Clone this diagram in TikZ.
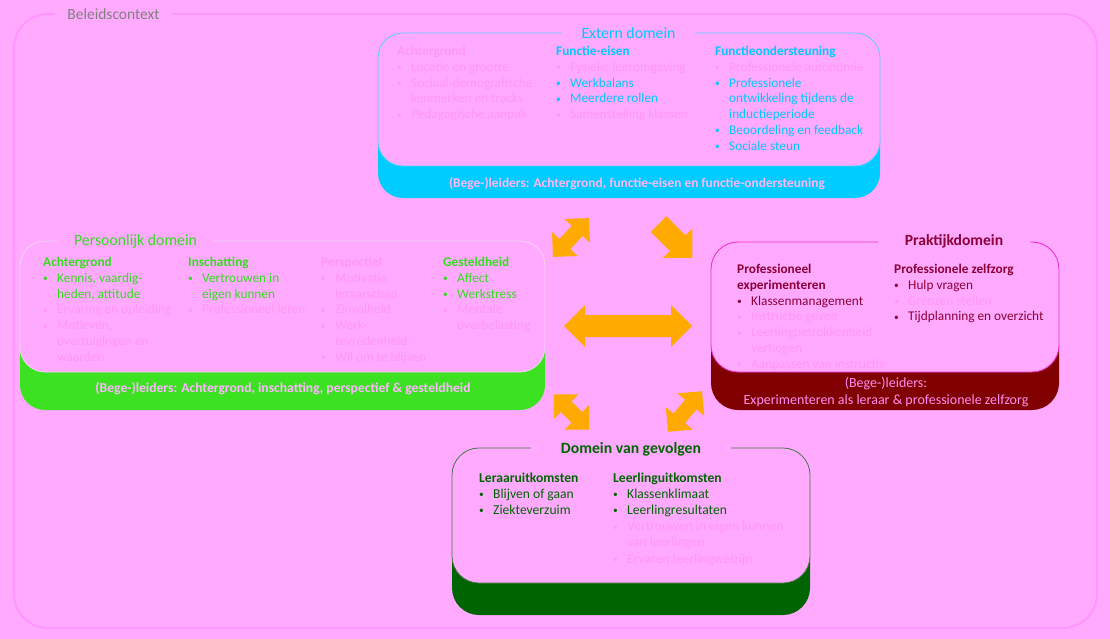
\documentclass[tikz,border=0pt]{standalone}
\usepackage{fontspec}
\setmainfont{Carlito}
\definecolor{bg}{RGB}{255,170,255}
\definecolor{frame}{RGB}{255,150,255}
\definecolor{fd}{RGB}{255,152,242}
\definecolor{ft}{RGB}{255,182,255}
\definecolor{ftr}{RGB}{255,140,245}
\definecolor{cyt}{RGB}{0,200,255}
\definecolor{cyb}{RGB}{0,204,255}
\definecolor{cyl}{RGB}{90,205,255}
\definecolor{grt}{RGB}{50,220,30}
\definecolor{grb}{RGB}{60,225,34}
\definecolor{grl}{RGB}{240,212,240}
\definecolor{mrt}{RGB}{140,0,55}
\definecolor{mrb}{RGB}{128,0,0}
\definecolor{mgl}{RGB}{240,50,205}
\definecolor{dgt}{RGB}{0,100,0}
\definecolor{dgb}{RGB}{0,100,0}
\definecolor{dgl}{RGB}{70,120,70}
\definecolor{gray}{RGB}{128,128,128}
\definecolor{arrowc}{RGB}{255,170,0}
\newcommand\bi[1]{\makebox[14pt][l]{\raisebox{0.5pt}{\fontsize{9.5}{9.5}\selectfont\textbullet}}#1}
\newcommand\ci[1]{\hspace*{14pt}#1}
\newcommand\fdi[1]{\textcolor{fd}{\bi{#1}}}
\newcommand\fci[1]{\textcolor{fd}{\ci{#1}}}
\newcommand\darrow[7]{% name cx cy angle L W s
  \begin{scope}[shift={(#2,#3)},rotate=#4]
    \fill[arrowc] (-#5/2,0) -- (-#5/2+#6/2,#6/2) -- (-#5/2+#6/2,#7/2) -- (#5/2-#6/2,#7/2) -- (#5/2-#6/2,#6/2) -- (#5/2,0) -- (#5/2-#6/2,-#6/2) -- (#5/2-#6/2,-#7/2) -- (-#5/2+#6/2,-#7/2) -- (-#5/2+#6/2,-#6/2) -- cycle;
    \coordinate (#1) at (0,0);
  \end{scope}}
\newcommand\sarrow[7]{% name cx cy angle L W s
  \begin{scope}[shift={(#2,#3)},rotate=#4]
    \fill[arrowc] (-#5/2,#7/2) -- (#5/2-#6/2,#7/2) -- (#5/2-#6/2,#6/2) -- (#5/2,0) -- (#5/2-#6/2,-#6/2) -- (#5/2-#6/2,-#7/2) -- (-#5/2,-#7/2) -- cycle;
    \coordinate (#1) at (0,0);
  \end{scope}}
\begin{document}
\begin{tikzpicture}[x=1pt,y=-1pt,
  col/.style={anchor=north west, inner sep=0pt, align=left, font=\fontsize{13.3}{15.75}\selectfont},
  colb/.style={anchor=north west, inner sep=0pt, align=left, font=\fontsize{13.6}{16.2}\selectfont},
  ttl/.style={fill=bg, inner ysep=3pt, inner xsep=0pt, font=\fontsize{15.8}{18}\selectfont},
  foot/.style={inner sep=0pt, align=center, font=\fontsize{13.5}{17}\selectfont}]
\useasboundingbox (0,0) rectangle (1110,639);
\fill[bg] (0,0) rectangle (1110,639);
% outer frame
\draw[frame, line width=2pt, rounded corners=34pt] (14,14) rectangle (1097,628);
\node[fill=bg, text=gray, inner sep=2pt, minimum width=117pt, font=\fontsize{15.5}{18}\selectfont] (ctx) at (113.5,14) {Beleidscontext};

% ===== Extern domein =====
\fill[cyb, rounded corners=25pt] (378,110) rectangle (880,198);
\filldraw[fill=bg, draw=cyl, line width=0.8pt, rounded corners=25pt] (378,33) rectangle (880,166);
\node[ttl, text=cyt, minimum width=133pt] (ext) at (628.5,33) {Extern domein};
\node[col, text=fd] (e1) at (397,44.5) {\strut\textbf{Achtergrond}\\\bi{Locatie en grootte}\\\bi{Sociaal-demografische}\\\ci{kenmerken en tracks}\\\bi{Pedagogische aanpak}};
\node[col, text=cyt] (e2) at (556,44.5) {\strut\textbf{Functie-eisen}\\\fdi{Fysieke leeromgeving}\\\bi{Werkbalans}\\\bi{Meerdere rollen}\\\fdi{Samenstelling klassen}};
\node[col, text=cyt] (e3) at (715,44.5) {\strut\textbf{Functieondersteuning}\\\fdi{Professionele autonomie}\\\bi{Professionele}\\\ci{ontwikkeling tijdens de}\\\ci{inductieperiode}\\\bi{Beoordeling en feedback}\\\bi{Sociale steun}};
\node[foot, text=ft, font=\bfseries\fontsize{13.4}{15}\selectfont] (ef) at (637,184) {(Bege-)leiders: Achtergrond, functie-eisen en functie-ondersteuning};

% ===== Persoonlijk domein =====
\fill[grb, rounded corners=25pt] (20,320) rectangle (545,410);
\filldraw[fill=bg, draw=grl, line width=0.8pt, rounded corners=25pt] (20,241) rectangle (545,372);
\node[ttl, text=grt, minimum width=155pt] (pers) at (135.5,241) {Persoonlijk domein};
\node[col, text=grt] (p1) at (43,255.5) {\strut\textbf{Achtergrond}\\\bi{Kennis, vaardig-}\\\ci{heden, attitude}\\\fdi{Ervaring en opleiding}\\\fdi{Motieven,}\\\fci{overtuigingen en}\\\fci{waarden}};
\node[col, text=grt] (p2) at (188,255.5) {\strut\textbf{Inschatting}\\\bi{Vertrouwen in}\\\ci{eigen kunnen}\\\fdi{Professioneel leren}};
\node[col, text=fd] (p3) at (321,255.5) {\strut\textbf{Perspectief}\\\bi{Motivatie}\\\ci{leraarschap}\\\bi{Zinvolheid}\\\bi{Werk-}\\\ci{tevredenheid}\\\bi{Wil om te blijven}};
\node[col, text=grt] (p4) at (443,255.5) {\strut\textbf{Gesteldheid}\\\bi{Affect}\\\bi{Werkstress}\\\fdi{Mentale}\\\fci{overbelasting}};
\node[foot, text=ft, font=\bfseries\fontsize{13.6}{15}\selectfont] (pf) at (283,389) {(Bege-)leiders: Achtergrond, inschatting, perspectief \& gesteldheid};

% ===== Praktijkdomein =====
\fill[mrb, rounded corners=27pt] (711,320) rectangle (1059,410);
\filldraw[fill=bg, draw=mgl, line width=0.9pt, rounded corners=27pt] (711,242) rectangle (1059,372);
\node[ttl, text=mrt, minimum width=152pt, font=\bfseries\fontsize{15.6}{18}\selectfont] (prak) at (954,241) {Praktijkdomein};
\node[col, text=mrt] (r1) at (737,262.5) {\strut\textbf{Professioneel}\\\textbf{experimenteren}\\\bi{Klassenmanagement}\\\fdi{Instructie geven}\\\fdi{Leerlingbetrokkenheid}\\\fci{verhogen}\\\fdi{Aanpassen van instructie}};
\node[col, text=mrt] (r2) at (894,262.5) {\strut\textbf{Professionele zelfzorg}\\\bi{Hulp vragen}\\\fdi{Grenzen stellen}\\\bi{Tijdplanning en overzicht}};
\node[foot, text=ftr, font=\fontsize{14}{17}\selectfont] (rf) at (886,392.5) {(Bege-)leiders:\\Experimenteren als leraar \& professionele zelfzorg};

% ===== Domein van gevolgen =====
\fill[dgb, rounded corners=27pt] (452,530) rectangle (810,615);
\filldraw[fill=bg, draw=dgl, line width=0.8pt, rounded corners=27pt] (452,448) rectangle (810,583);
\node[ttl, text=dgt, minimum width=200pt, font=\bfseries\fontsize{15.7}{18}\selectfont] (gev) at (631,449) {Domein van gevolgen};
\node[colb, text=dgt] (g1) at (479,470.5) {\strut\textbf{Leraaruitkomsten}\\\bi{Blijven of gaan}\\\bi{Ziekteverzuim}};
\node[colb, text=dgt] (g2) at (613,470.5) {\strut\textbf{Leerlinguitkomsten}\\\bi{Klassenklimaat}\\\bi{Leerlingresultaten}\\\fdi{Vertrouwen in eigen kunnen}\\\fci{van leerlingen}\\\fdi{Ervaren leerlingwelzijn}};

% ===== arrows =====
\darrow{ah}{628}{326}{0}{128}{42}{22}
\darrow{atl}{571}{237.5}{47}{53}{35}{15}
\sarrow{atr}{675.5}{241}{-45}{48}{42}{22}
\darrow{abl}{571.5}{412}{-45}{50}{35}{15}
\darrow{abr}{685}{411.5}{50}{53}{35}{15}
\end{tikzpicture}
\end{document}
